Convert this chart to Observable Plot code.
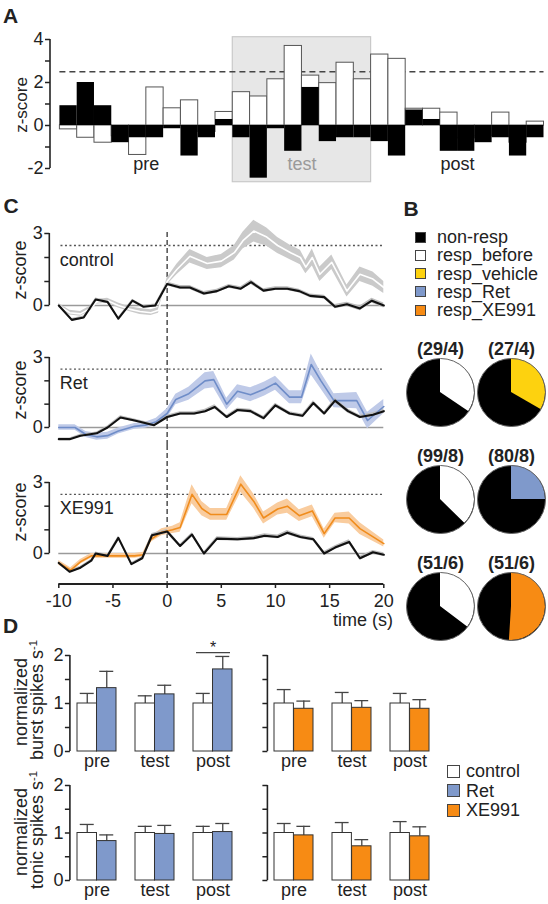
<!DOCTYPE html>
<html><head><meta charset="utf-8">
<script src="https://cdn.jsdelivr.net/npm/d3@7"></script>
<script src="https://cdn.jsdelivr.net/npm/@observablehq/plot@0.6"></script>
<style>
body{margin:0;background:#fff;}
#fig{position:relative;width:548px;height:904px;overflow:hidden;font-family:"Liberation Sans",Arial,sans-serif;color:#222;}
.panel{position:absolute;}
.panel svg{max-width:none;display:block;}
.lbl{position:absolute;white-space:nowrap;line-height:1;}
.lbl sup{font-size:0.62em;vertical-align:0.55em;line-height:0;}
</style></head><body><div id="fig"></div>
<script>
// ---------------- DATA ----------------
// Panel A: z-score histogram, 28 bins
const binWhite = [-0.18,-0.57,-0.8,-0.5,-1.37,1.77,0.8,1.17,-0.3,0.63,1.55,1.35,2.15,3.7,2.32,1.97,2.92,2.15,3.3,3.1,0.78,0.78,0.6,-0.6,-0.5,0.6,-0.8,0.18];
const binBlack = [0.92,2.0,0.92,-0.8,-0.57,-0.57,-0.15,-1.42,-0.57,0.28,-0.57,-2.45,-0.15,-1.2,1.77,-0.75,-0.57,-0.57,-0.75,-1.42,0.72,0.28,-1.2,-1.2,-0.8,-0.57,-1.42,-0.57];
const periodNames = ["pre","test","post"];
const periodStart = [0,10,18];
const periodEnd = [10,18,28];
const aTicks = [-2,-1,0,1,2,3,4];
const zThreshold = 2.5;

// Panel C: time courses (t in s, mean z-score, sem)
const ctrlRespT = [-10,-9,-8,-7,-6.5,-5.5,-4.5,-3.5,-2.5,-1.5,-0.8,0,0.9,2.1,3.7,5,6.2,7,8,9.2,10.2,11.4,12.3,12.8,13.4,14.1,15.2,16.6,17.8,19,20];
const ctrlRespV = [0,-0.3,-0.35,-0.1,0.15,0.2,0,-0.15,-0.25,-0.3,-0.2,1.0,1.5,2.05,1.75,1.85,2.2,2.7,3.1,2.85,2.5,2.2,2.0,1.6,2.0,1.3,1.8,0.6,1.3,1.1,0.75];
const ctrlRespS = [0.08,0.1,0.1,0.1,0.1,0.1,0.1,0.1,0.12,0.12,0.12,0.15,0.22,0.28,0.25,0.28,0.3,0.35,0.45,0.38,0.33,0.3,0.3,0.28,0.35,0.3,0.3,0.25,0.3,0.3,0.25];
const ctrlNonT = [-10,-8.8,-7.7,-6.6,-5.5,-4.5,-3.2,-2.2,-1.1,0,1.2,2.1,3.4,4.6,5.7,6.8,7.75,8.9,10,11.1,12.2,13.2,14.5,15.5,16.6,17.8,18.9,20];
const ctrlNonV = [0,-0.6,-0.5,0.25,0.15,-0.55,0.2,-0.05,0,0.9,0.75,0.75,0.5,0.6,0.8,0.7,0.97,0.62,0.7,0.7,0.6,0.4,0.35,-0.05,0.05,-0.12,0.2,0];
const ctrlNonS = [0.05,0.06,0.06,0.06,0.06,0.06,0.06,0.06,0.06,0.08,0.08,0.08,0.08,0.08,0.08,0.08,0.09,0.08,0.08,0.08,0.08,0.08,0.08,0.09,0.09,0.1,0.1,0.1];

const retRespT = [-10,-8.5,-7.5,-6.5,-5.5,-4.5,-3,-2,-1,0,0.8,2,3.5,4.3,5.5,6.5,7.7,9,10,11.3,12.4,13.3,14.2,15.4,17.5,18.5,20];
const retRespV = [0,0,-0.3,-0.4,-0.35,-0.15,0.05,0.1,0.25,0.6,1.2,1.45,2.0,2.05,1.0,1.55,1.4,1.65,1.9,1.3,1.3,2.7,2.0,1.15,1.15,0.3,0.9];
const retRespS = [0.12,0.12,0.13,0.15,0.15,0.13,0.12,0.13,0.15,0.2,0.22,0.28,0.35,0.35,0.25,0.28,0.3,0.3,0.3,0.28,0.28,0.45,0.35,0.3,0.35,0.35,0.3];
const retNonT = [-10,-9,-8,-6.5,-5.5,-4.3,-3,-1.2,0,1.2,2.5,3.5,4.4,5.5,6.5,7.7,8.9,10,11.3,12.5,13.5,14.5,15.5,16.7,17.8,19,20];
const retNonV = [-0.5,-0.5,-0.35,-0.25,0,0.43,0.3,0.1,0.45,0.6,0.6,0.7,0.88,0.45,0.75,0.7,0.4,0.95,0.6,0.5,1.05,0.6,1.15,0.7,0.45,0.55,0.7];
const retNonS = [0.05,0.05,0.06,0.06,0.06,0.07,0.06,0.06,0.07,0.08,0.08,0.08,0.09,0.08,0.08,0.08,0.08,0.09,0.08,0.08,0.1,0.08,0.1,0.09,0.08,0.08,0.09];

const xeRespT = [-10,-8.9,-8,-7,-6,-5,-4,-3,-2.2,-1.5,-0.5,0.5,1.2,2.3,3.2,4,5.5,6.8,8,8.9,10.2,11.1,12.2,13.4,14.5,15.5,16.8,17.8,20];
const xeRespV = [-0.4,-0.7,-0.35,-0.1,-0.1,-0.1,-0.1,-0.1,-0.05,0.6,0.9,1.0,1.1,2.5,1.9,1.65,1.65,2.93,2.2,1.5,1.88,2.0,1.6,1.8,0.84,1.5,1.5,1.05,0.42];
const xeRespS = [0.1,0.1,0.1,0.1,0.1,0.1,0.1,0.1,0.1,0.12,0.15,0.15,0.2,0.4,0.3,0.25,0.25,0.35,0.3,0.25,0.25,0.3,0.25,0.25,0.2,0.2,0.25,0.25,0.15];
const xeNonT = [-10,-9,-8,-7,-6.6,-5.5,-4.5,-3.3,-2.3,-1.4,0,1.2,2.3,3.4,4.6,6.5,8,9,10.2,11.1,12.3,13.5,14.5,15.5,16.8,17.8,19,20];
const xeNonV = [-0.4,-0.77,-0.6,-0.3,0,-0.1,0.66,-0.45,-0.2,0.77,0.93,0.32,0.8,0,0.63,0.6,0.65,0.75,0.7,0.88,0.7,0.6,0,0.25,0.49,-0.2,0.05,-0.05];
const xeNonS = [0.05,0.06,0.06,0.06,0.06,0.06,0.07,0.06,0.06,0.07,0.08,0.07,0.08,0.07,0.08,0.08,0.08,0.08,0.08,0.09,0.08,0.08,0.08,0.08,0.09,0.08,0.08,0.08];
const cTicksX = [-10,-5,0,5,10,15,20];
const cTicksY = [0,1,2,3];

// Panel B: pies
const pieGroup = ["control","control","Ret","Ret","XE991","XE991"];
const piePhase = ["before","after","before","after","before","after"];
const pieCells = [29,27,99,80,51,51];
const pieRats = [4,4,8,8,6,6];
const pieResp = [10,9,37,20,18,26];
const pieCat = ["resp_before","resp_vehicle","resp_before","resp_Ret","resp_before","resp_XE991"];
const legendNames = ["non-resp","resp_before","resp_vehicle","resp_Ret","resp_XE991"];

// Panel D: normalized spikes
const dPeriods = ["pre","test","post"];
const ctrlMean = [1,1,1];
const burstCtrlRetSem = [0.21,0.16,0.21];
const burstRetMean = [1.32,1.19,1.71];
const burstRetSem = [0.35,0.19,0.27];
const burstCtrlXeSem = [0.29,0.23,0.21];
const burstXeMean = [0.89,0.91,0.89];
const burstXeSem = [0.16,0.15,0.19];
const tonicCtrlRetSem = [0.18,0.14,0.14];
const tonicRetMean = [0.83,0.98,1.02];
const tonicRetSem = [0.13,0.18,0.18];
const tonicCtrlXeSem = [0.2,0.22,0.24];
const tonicXeMean = [0.95,0.72,0.93];
const tonicXeSem = [0.19,0.14,0.2];
const dTicks = [0,0.5,1,1.5,2];
const sigPeriod = ["post"];
const sigLevel = [2.06];
const dLegend = ["control","Ret","XE991"];

// ---------------- STYLE ----------------
const FONT = '"Liberation Sans", Arial, sans-serif';
const TXT = "#222";
const palette = {"non-resp":"#000000","resp_before":"#ffffff","resp_vehicle":"#fdd20f","resp_Ret":"#7f99cb","resp_XE991":"#f78b14"};
const dColor = {"control":"#ffffff","Ret":"#7f99cb","XE991":"#f78b14"};
const style = {background:"transparent", fontFamily: FONT, color: TXT, overflow:"visible"};
const fig = document.getElementById("fig");

function place(node, left, top, w, h) {
  const d = document.createElement("div");
  d.className = "panel";
  d.style.left = left + "px"; d.style.top = top + "px";
  d.style.width = w + "px"; d.style.height = h + "px";
  d.appendChild(node); fig.appendChild(d);
}
function label(html, x, y, o = {}) {
  const d = document.createElement("div");
  d.className = "lbl";
  d.innerHTML = html;
  d.style.left = x + "px"; d.style.top = y + "px";
  d.style.fontSize = (o.size || 18) + "px";
  d.style.fontWeight = o.weight || "normal";
  d.style.color = o.color || TXT;
  const tx = o.anchor === "start" ? "0" : "-50%";
  d.style.transform = `translate(${tx},-50%) rotate(${o.rot || 0}deg)`;
  fig.appendChild(d);
}
const SVGNS = "http://www.w3.org/2000/svg";
function yAxisLine(lo, hi, w = 1.6) {
  return (index, scales, values, dims) => {
    const l = document.createElementNS(SVGNS, "line");
    l.setAttribute("x1", dims.marginLeft); l.setAttribute("x2", dims.marginLeft);
    l.setAttribute("y1", scales.y(lo)); l.setAttribute("y2", scales.y(hi));
    l.setAttribute("stroke", TXT); l.setAttribute("stroke-width", w);
    return l;
  };
}
function xAxisLine(lo, hi, w = 1.8) {
  return (index, scales, values, dims) => {
    const yy = dims.height - dims.marginBottom;
    const l = document.createElementNS(SVGNS, "line");
    l.setAttribute("x1", scales.x(lo)); l.setAttribute("x2", scales.x(hi));
    l.setAttribute("y1", yy); l.setAttribute("y2", yy);
    l.setAttribute("stroke", TXT); l.setAttribute("stroke-width", w);
    return l;
  };
}

// ---------------- PANEL A ----------------
const aData = binWhite.map((w, i) => ({bin: i, white: w, black: binBlack[i]}));
const periods = periodNames.map((p, i) => ({p, x1: periodStart[i], x2: periodEnd[i], mid: (periodStart[i] + periodEnd[i]) / 2}));
const plotA = Plot.plot({
  width: 548, height: 190, marginLeft: 50, marginRight: 4.5, marginTop: 36.7, marginBottom: 8.3,
  x: {domain: [0, binWhite.length], range: [59.4, 543.5], axis: null},
  y: {domain: [-2, 4], range: [168, 39], axis: null},
  style,
  marks: [
    Plot.rect(periods.filter(d => d.p === "test"), {x1: "x1", x2: "x2", fill: "#e7e7e7", stroke: "#c9c9c9", strokeWidth: 1.2}),
    Plot.ruleY([zThreshold], {x1: 0, x2: binWhite.length, stroke: "#444", strokeWidth: 1.4, strokeDasharray: "6,4"}),
    Plot.rectY(aData, {x1: "bin", x2: d => d.bin + 1, y: "white", fill: "white", stroke: "#555", strokeWidth: 1}),
    Plot.rectY(aData, {x1: "bin", x2: d => d.bin + 1, y: "black", fill: "black"}),
    Plot.text(periods.filter(d => d.p !== "test"), {x: "mid", text: "p", frameAnchor: "bottom", dy: -12, fontSize: 18, fill: TXT}),
    Plot.text(periods.filter(d => d.p === "test"), {x: "mid", text: "p", frameAnchor: "bottom", dy: -12, fontSize: 18, fill: "#9a9a9a"}),
    Plot.axisY({ticks: aTicks, tickFormat: d => d % 2 === 0 ? String(d) : "", tickSize: 5, tickPadding: 2, fontSize: 18, strokeWidth: 1.5, label: null}),
    yAxisLine(-2, 4)
  ]
});
place(plotA, 0, 0, 548, 190);
label("A", 10.5, 15, {size: 21, weight: "bold"});
label("z-score", 21, 105, {size: 17, rot: -90});

// ---------------- PANEL C ----------------
const series = (T, V, S) => T.map((t, i) => ({t, v: V[i], s: S[i]}));
const tExt = d3.extent(ctrlRespT);
function cPlot(o) {
  const resp = o.resp, non = o.non;
  const marks = [
    Plot.ruleY([0], {x1: tExt[0], x2: tExt[1], stroke: "#9a9a9a", strokeWidth: 1.6}),
    Plot.ruleY([zThreshold], {x1: tExt[0] + 0.2, x2: tExt[1], stroke: "#555", strokeWidth: 1.4, strokeDasharray: "2,2.5"}),
    Plot.ruleX([0], {stroke: "#333", strokeWidth: 1.3, strokeDasharray: "5,3"}),
    Plot.areaY(resp, {x: "t", y1: d => d.v - d.s, y2: d => d.v + d.s, fill: o.band, fillOpacity: 1}),
    Plot.areaY(non, {x: "t", y1: d => d.v - d.s, y2: d => d.v + d.s, fill: "#bdbdbd"}),
    Plot.line(resp, {x: "t", y: "v", stroke: o.line, strokeWidth: 1.6}),
    Plot.line(non, {x: "t", y: "v", stroke: "#111", strokeWidth: 2.1}),
    Plot.axisY({ticks: cTicksY, tickFormat: d => (d === 0 || d === 3) ? String(d) : "", tickSize: 5, tickPadding: 2, fontSize: 18, strokeWidth: 1.5, label: null}),
    yAxisLine(0, 3),
    Plot.text([o.name], {x: tExt[0], y: 1.9, text: d => d, textAnchor: "start", dx: 1, fontSize: 18, fill: TXT})
  ];
  if (o.xAxis) {
    marks.push(Plot.axisX({ticks: cTicksX, tickFormat: d => String(d), tickSize: 4, tickPadding: 6, fontSize: 18, strokeWidth: 1.5, label: null}));
    marks.push(xAxisLine(tExt[0], tExt[1]));
  }
  return Plot.plot({
    width: 400, height: o.height, marginLeft: 49.3, marginRight: 0, marginTop: o.mt, marginBottom: o.mb,
    x: {domain: tExt, range: [58.3, 383.3], axis: null},
    y: {domain: [0, 3], range: o.yr, axis: null},
    style, marks
  });
}
place(cPlot({resp: series(ctrlRespT, ctrlRespV, ctrlRespS), non: series(ctrlNonT, ctrlNonV, ctrlNonS),
  band: "#cacaca", line: "#ffffff", name: "control", height: 105, mt: 17, mb: 0, yr: [90, 18]}), 0, 215, 400, 105);
place(cPlot({resp: series(retRespT, retRespV, retRespS), non: series(retNonT, retNonV, retNonS),
  band: "#bfcae8", line: "#6f8dc8", name: "Ret", height: 125, mt: 0, mb: 0, yr: [107, 37]}), 0, 320, 400, 125);
place(cPlot({resp: series(xeRespT, xeRespV, xeRespS), non: series(xeNonT, xeNonV, xeNonS),
  band: "#f9cc9e", line: "#f08c1c", name: "XE991", height: 185, mt: 0, mb: 46, yr: [108, 37], xAxis: true}), 0, 445, 400, 185);
label("C", 11, 205, {size: 21, weight: "bold"});
label("z-score", 20, 270, {size: 18, rot: -90});
label("z-score", 20, 390, {size: 18, rot: -90});
label("z-score", 20, 512, {size: 18, rot: -90});
label("time (s)", 333, 620, {size: 18, anchor: "start"});

// ---------------- PANEL B ----------------
label("B", 411, 208, {size: 21, weight: "bold"});
legendNames.forEach((n, i) => {
  const d = document.createElement("div");
  d.className = "lbl";
  d.style.left = "415px"; d.style.top = (237 + i * 18.3) + "px";
  d.style.transform = "translate(0,-50%)";
  d.style.fontSize = "18px";
  d.style.display = "flex"; d.style.alignItems = "center";
  d.innerHTML = `<span style="display:inline-block;width:11px;height:11px;box-sizing:border-box;background:${palette[n]};border:1px solid #444;margin-right:11px"></span>${n}`;
  fig.appendChild(d);
});
const pies = pieGroup.map((g, i) => ({group: g, phase: piePhase[i], n: pieCells[i], rats: pieRats[i], resp: pieResp[i], cat: pieCat[i]}));
const pieR = 34;
function pieWedges(data) {
  return (index, scales) => {
    const g = d3.create("svg:g");
    const arc = d3.arc().innerRadius(0).outerRadius(pieR);
    for (const p of data) {
      g.append("path")
        .attr("transform", `translate(${scales.x(p.phase)},${scales.y(p.group)})`)
        .attr("d", arc({startAngle: 0, endAngle: 2 * Math.PI * p.resp / p.n}))
        .attr("fill", palette[p.cat]);
    }
    return g.node();
  };
}
const plotB = Plot.plot({
  width: 158, height: 320, margin: 0,
  x: {type: "point", domain: ["before", "after"], range: [49.5, 121], padding: 0, axis: null},
  y: {type: "point", domain: ["control", "Ret", "XE991"], range: [67, 281], padding: 0, axis: null},
  style,
  marks: [
    Plot.dot(pies, {x: "phase", y: "group", r: pieR, fill: palette["non-resp"], stroke: "none"}),
    pieWedges(pies),
    Plot.dot(pies, {x: "phase", y: "group", r: pieR, fill: "none", stroke: "#666", strokeWidth: 1}),
    Plot.text(pies, {x: "phase", y: "group", text: d => `(${d.n}/${d.rats})`, dy: -43, fontSize: 18, fontWeight: "bold", fill: TXT})
  ]
});
place(plotB, 390, 325, 158, 320);

// ---------------- PANEL D ----------------
const dPad = 0.33;
function dPlot(o) {
  const xb = d3.scaleBand(dPeriods, o.xRange).paddingInner(dPad).paddingOuter(0);
  const bw = xb.bandwidth();
  const capW = 14;
  const rows = dPeriods.map((p, i) => ({period: p, c: ctrlMean[i], cs: o.ctrlSem[i], t: o.trtMean[i], ts: o.trtSem[i]}));
  const marks = [
    Plot.ruleX(rows, {x: "period", dx: -bw / 4, y1: "c", y2: d => d.c + d.cs, stroke: "#444", strokeWidth: 1.3}),
    Plot.ruleX(rows, {x: "period", dx: bw / 4, y1: "t", y2: d => d.t + d.ts, stroke: "#444", strokeWidth: 1.3}),
    Plot.tickY(rows, {x: "period", y: d => d.c + d.cs, insetLeft: bw / 4 - capW / 2, insetRight: 3 * bw / 4 - capW / 2, stroke: "#444", strokeWidth: 1.3}),
    Plot.tickY(rows, {x: "period", y: d => d.t + d.ts, insetLeft: 3 * bw / 4 - capW / 2, insetRight: bw / 4 - capW / 2, stroke: "#444", strokeWidth: 1.3}),
    Plot.barY(rows, {x: "period", y: "c", insetRight: bw / 2, fill: dColor.control, stroke: "#333", strokeWidth: 1}),
    Plot.barY(rows, {x: "period", y: "t", insetLeft: bw / 2, fill: dColor[o.trt], stroke: "#333", strokeWidth: 1}),
    Plot.axisY({ticks: dTicks, tickFormat: d => (o.labels && Number.isInteger(d)) ? String(d) : "", tickSize: 5, tickPadding: 2, fontSize: 18, strokeWidth: 1.5, label: null}),
    yAxisLine(0, 2),
    Plot.axisX({tickSize: 0, tickPadding: 3, fontSize: 18, label: null})
  ];
  if (o.sig) {
    const s = sigPeriod.map((p, i) => ({period: p, y: sigLevel[i]}));
    marks.push(Plot.tickY(s, {x: "period", y: "y", insetLeft: 3, insetRight: 2, stroke: "#444", strokeWidth: 1.3}));
    marks.push(Plot.text(s, {x: "period", y: "y", text: () => "*", dy: -5, fontSize: 16, fill: TXT}));
  }
  return Plot.plot({
    width: o.width, height: o.height, marginLeft: o.axisAt, marginRight: 0,
    marginTop: o.yRange[1], marginBottom: o.height - o.yRange[0],
    x: {type: "band", domain: dPeriods, range: o.xRange, paddingInner: dPad, paddingOuter: 0, axis: null},
    y: {domain: [0, 2], range: o.yRange, axis: null},
    style, marks
  });
}
place(dPlot({width: 250, height: 135, axisAt: 69.9, xRange: [76.9, 232.4], yRange: [111, 15], ctrlSem: burstCtrlRetSem, trtMean: burstRetMean, trtSem: burstRetSem, trt: "Ret", labels: true, sig: true}), 0, 640, 250, 135);
place(dPlot({width: 440, height: 135, axisAt: 267.4, xRange: [273.7, 429.9], yRange: [111, 15], ctrlSem: burstCtrlXeSem, trtMean: burstXeMean, trtSem: burstXeSem, trt: "XE991", labels: false}), 0, 640, 440, 135);
place(dPlot({width: 250, height: 134, axisAt: 69.9, xRange: [76.9, 232.4], yRange: [110, 15], ctrlSem: tonicCtrlRetSem, trtMean: tonicRetMean, trtSem: tonicRetSem, trt: "Ret", labels: true}), 0, 770, 250, 134);
place(dPlot({width: 440, height: 134, axisAt: 267.4, xRange: [273.7, 429.9], yRange: [110, 15], ctrlSem: tonicCtrlXeSem, trtMean: tonicXeMean, trtSem: tonicXeSem, trt: "XE991", labels: false}), 0, 770, 440, 134);
label("D", 10.5, 625, {size: 21, weight: "bold"});
label("normalized", 21, 702, {size: 18, rot: -90});
label("burst spikes s<sup>-1</sup>", 37, 700, {size: 18, rot: -90});
label("normalized", 21, 832, {size: 18, rot: -90});
label("tonic spikes s<sup>-1</sup>", 37, 830, {size: 18, rot: -90});
dLegend.forEach((n, i) => {
  const d = document.createElement("div");
  d.className = "lbl";
  d.style.left = "447px"; d.style.top = (771 + i * 19.5) + "px";
  d.style.transform = "translate(0,-50%)";
  d.style.fontSize = "18px";
  d.style.display = "flex"; d.style.alignItems = "center";
  d.innerHTML = `<span style="display:inline-block;width:13px;height:13px;box-sizing:border-box;background:${dColor[n]};border:1px solid #444;margin-right:6px"></span>${n}`;
  fig.appendChild(d);
});
</script></body></html>
